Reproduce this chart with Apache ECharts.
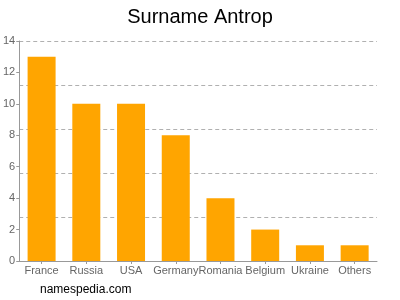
<!DOCTYPE html>
<html><head><meta charset="utf-8">
<script src="https://cdn.jsdelivr.net/npm/echarts@6/dist/echarts.min.js"></script>
<style>html,body{margin:0;padding:0;background:#fff}#c{width:400px;height:300px}</style>
</head><body><div id="c"></div>
<script>
const categories = ["France","Russia","USA","Germany","Romania","Belgium","Ukraine","Others"];
const values = [13,10,10,8,4,2,1,1];
const yTicks = [0,2,4,6,8,10,12,14];
const gridStep = 2.8;
const chart = echarts.init(document.getElementById('c'), null, {renderer:'canvas'});
chart.setOption({
  animation:false,
  title:{text:'Surname Antrop',left:'center',top:2,textStyle:{fontFamily:'Liberation Sans, Arial',fontSize:20,fontWeight:'normal',color:'#000'}},
  graphic:[{type:'text',left:40,top:284,style:{text:'namespedia.com',font:'12px Liberation Sans, Arial',fill:'#000'}}],
  grid:{left:17,right:23,top:41,bottom:39,containLabel:false},
  xAxis:{type:'category',data:categories,
    axisLine:{lineStyle:{color:'#999'}},axisTick:{show:true,alignWithLabel:true,lineStyle:{color:'#999'},length:3},
    axisLabel:{color:'#666',fontFamily:'Liberation Sans, Arial',fontSize:11,margin:4,interval:0}},
  yAxis:[{type:'value',min:yTicks[0],max:yTicks[yTicks.length-1],interval:2,
    axisLine:{show:true,lineStyle:{color:'#999'}},axisTick:{show:true,length:3,lineStyle:{color:'#999'}},
    axisLabel:{color:'#666',fontFamily:'Liberation Sans, Arial',fontSize:11,margin:4},
    splitLine:{show:false}},
    {type:'value',min:yTicks[0],max:yTicks[yTicks.length-1],interval:gridStep,position:'left',
    axisLine:{show:false},axisTick:{show:false},axisLabel:{show:false},
    splitLine:{show:true,lineStyle:{color:'#b0b0b0',type:[4,3]}}}],
  series:[{type:'bar',data:values,barWidth:28,yAxisIndex:0,itemStyle:{color:'#ffa500'}}]
});
</script></body></html>
